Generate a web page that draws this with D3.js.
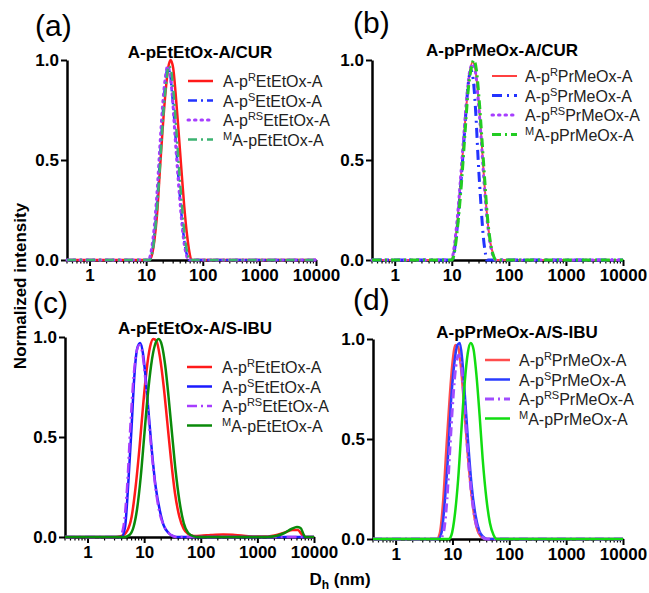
<!DOCTYPE html>
<html>
<head>
<meta charset="utf-8">
<script src="https://cdn.jsdelivr.net/npm/d3@7"></script>
<style>
  body { margin: 0; background: #fff; }
  svg { display: block; font-family: "Liberation Sans", Arial, sans-serif; }
</style>
</head>
<body>
<div id="chart"></div>
<script>
// ---- data (Dh in nm, normalized intensity) ----
const xTicks = [1, 10, 100, 1000, 10000];
const yTicks = [0, 0.5, 1];

const titles = ["A-pEtEtOx-A/CUR", "A-pPrMeOx-A/CUR", "A-pEtEtOx-A/S-IBU", "A-pPrMeOx-A/S-IBU"];
const letters = ["(a)", "(b)", "(c)", "(d)"];

// legend labels: [before, superscript, after]
const labelsEt = [["A-p", "R", "EtEtOx-A"], ["A-p", "S", "EtEtOx-A"], ["A-p", "RS", "EtEtOx-A"], ["", "M", "A-pEtEtOx-A"]];
const labelsPr = [["A-p", "R", "PrMeOx-A"], ["A-p", "S", "PrMeOx-A"], ["A-p", "RS", "PrMeOx-A"], ["", "M", "A-pPrMeOx-A"]];

// (a) A-pEtEtOx-A/CUR
const aR = [[0.4,0],[11.5,0],[12.5,0.02],[14,0.1],[15.5,0.22],[17.5,0.45],[19.5,0.65],[22,0.84],[24.5,0.96],[27,1.0],[30,0.96],[33,0.84],[37,0.66],[42,0.45],[47,0.27],[53,0.12],[58,0.04],[63,0],[10000,0]];
const aS = [[0.4,0],[11.5,0],[12.5,0.03],[14,0.13],[16,0.33],[18,0.56],[20,0.76],[22,0.9],[24,0.96],[26.5,0.93],[29,0.82],[33,0.62],[37,0.42],[42,0.23],[47,0.1],[53,0.02],[57,0],[10000,0]];
const aRS = [[0.4,0],[11,0],[12,0.03],[13.5,0.13],[15.5,0.33],[17.5,0.57],[19.5,0.77],[22,0.92],[24,0.97],[26,0.94],[29,0.82],[32,0.64],[36,0.44],[41,0.24],[46,0.1],[52,0.02],[56,0],[10000,0]];
const aM = [[0.4,0],[11.5,0],[12.5,0.02],[14,0.11],[16,0.3],[18,0.52],[20,0.72],[22.5,0.88],[25,0.97],[27.5,0.95],[30,0.86],[34,0.66],[38,0.46],[43,0.27],[48,0.12],[54,0.03],[59,0],[10000,0]];

// (b) A-pPrMeOx-A/CUR
const bR = [[0.4,0],[9.9,0],[10.8,0.04],[12.4,0.18],[14,0.36],[16.2,0.6],[18.4,0.8],[20.5,0.93],[23.2,0.99],[26,0.95],[29,0.82],[32.5,0.64],[36.5,0.42],[41,0.24],[46.5,0.1],[53,0.03],[59,0],[10000,0]];
const bS = [[0.4,0],[10.2,0],[11.3,0.06],[13,0.22],[15.1,0.46],[17.3,0.7],[19.4,0.88],[21.6,0.95],[23.8,0.9],[26.5,0.72],[29,0.5],[32.4,0.28],[35.6,0.12],[39,0.03],[41,0],[10000,0]];
const bRS = [[0.4,0],[9.9,0],[10.8,0.05],[12.4,0.2],[14,0.38],[16.2,0.62],[18.4,0.82],[20.5,0.94],[23.2,0.98],[26,0.94],[29,0.8],[32.5,0.62],[36.5,0.4],[41,0.22],[46.5,0.09],[53,0.02],[58,0],[10000,0]];
const bM = [[0.4,0],[10.2,0],[11.3,0.05],[13,0.2],[15.1,0.42],[17.3,0.66],[19.4,0.85],[22,0.96],[24.3,1.0],[27,0.95],[30.2,0.8],[33.5,0.62],[37.8,0.4],[42,0.22],[47.5,0.09],[54,0.02],[60,0],[10000,0]];

// (c) A-pEtEtOx-A/S-IBU
const cR = [[0.4,0],[3,0],[4,0.005],[5,0.03],[6,0.1],[7,0.24],[8.3,0.45],[9.6,0.66],[11,0.83],[12.7,0.95],[14.5,0.99],[16.5,0.98],[19,0.9],[22,0.76],[25.5,0.58],[30,0.38],[35,0.22],[42,0.1],[50,0.04],[60,0.015],[75,0.005],[100,0.006],[150,0.01],[250,0.013],[400,0.01],[700,0.004],[1200,0.002],[2000,0.008],[3000,0.022],[4200,0.035],[5200,0.035],[6000,0.015],[6800,0],[10000,0]];
const cS = [[0.4,0],[4,0],[4.6,0.05],[5.2,0.25],[6,0.55],[6.7,0.8],[7.5,0.94],[8.5,0.97],[9.5,0.92],[10.6,0.8],[12,0.62],[13.8,0.42],[16,0.25],[19,0.13],[22,0.06],[27,0.02],[32,0.005],[37,0],[10000,0]];
const cRS = [[0.4,0],[3.7,0],[4.3,0.05],[5,0.25],[5.7,0.55],[6.5,0.8],[7.4,0.93],[8.3,0.96],[9.3,0.92],[10.4,0.8],[11.8,0.62],[13.6,0.42],[15.8,0.25],[18.4,0.13],[22,0.06],[27,0.02],[32,0.005],[37,0],[10000,0]];
const cM = [[0.4,0],[4.5,0],[5.5,0.01],[6.5,0.05],[7.5,0.14],[8.7,0.3],[10,0.5],[11.5,0.7],[13.3,0.86],[15.5,0.96],[18,0.99],[20.5,0.96],[23.5,0.86],[27,0.7],[31,0.52],[36,0.33],[42,0.18],[50,0.07],[60,0.02],[75,0.003],[90,0],[1500,0],[2200,0.006],[3000,0.02],[4000,0.04],[5000,0.05],[5800,0.045],[6500,0.015],[7000,0],[10000,0]];

// (d) A-pPrMeOx-A/S-IBU
const dR = [[0.4,0],[5.3,0],[6,0.03],[6.9,0.2],[7.8,0.45],[8.9,0.7],[10,0.88],[11.3,0.97],[12.6,0.96],[14.1,0.86],[16.1,0.66],[18.4,0.44],[21.3,0.24],[24.7,0.1],[28.8,0.03],[34.5,0.005],[39,0],[10000,0]];
const dS = [[0.4,0],[5.6,0],[6.4,0.03],[7.4,0.2],[8.5,0.45],[9.5,0.7],[10.8,0.88],[12.2,0.97],[13.5,0.98],[14.8,0.9],[16.7,0.7],[18.9,0.48],[21.7,0.27],[25.4,0.12],[29.7,0.04],[35,0.01],[41,0],[10000,0]];
const dRS = [[0.4,0],[6,0],[6.9,0.03],[8,0.2],[9,0.45],[10.2,0.7],[11.4,0.86],[12.9,0.92],[14.4,0.86],[16.2,0.68],[18.3,0.46],[21.2,0.25],[25,0.1],[29.7,0.03],[35,0.005],[39,0],[10000,0]];
const dM = [[0.4,0],[8.6,0],[9.6,0.02],[11,0.12],[12.6,0.3],[14.4,0.55],[16.4,0.78],[18.6,0.93],[21,0.98],[23.4,0.95],[26.4,0.82],[30,0.62],[34,0.4],[39.6,0.2],[45.6,0.08],[52.8,0.02],[60,0],[10000,0]];

// ---- layout / styles ----
const W = 649, H = 593;
const panels = [
  { x0: 67, x1: 316, yt: 60, yb: 260, title: titles[0], tx: 200, ty: 58, letter: letters[0], lx: 35, ly: 36,
    legX: 188, legY: 81, legText: 223, labels: labelsEt,
    series: [
      { data: aR, color: "#ff1a1a", dash: null, w: 2.5 },
      { data: aS, color: "#2233ff", dash: "9,4,2,4", w: 2.5 },
      { data: aRS, color: "#a63dff", dash: "1.5,5", w: 3, cap: "round" },
      { data: aM, color: "#3cb371", dash: "9,4,2,4", w: 2.5 }
    ] },
  { x0: 372, x1: 623, yt: 60, yb: 260, title: titles[1], tx: 502, ty: 56, letter: letters[1], lx: 353, ly: 33,
    legX: 492, legY: 76, legText: 525, labels: labelsPr,
    series: [
      { data: bR, color: "#ff4040", dash: null, w: 2 },
      { data: bS, color: "#2233ff", dash: "10,5,2,5", w: 3 },
      { data: bRS, color: "#a63dff", dash: "1.5,5", w: 3, cap: "round" },
      { data: bM, color: "#22cc22", dash: "9,4,2,4", w: 3 }
    ] },
  { x0: 65, x1: 314, yt: 337, yb: 537, title: titles[2], tx: 195, ty: 334, letter: letters[2], lx: 33, ly: 313,
    legX: 187, legY: 367, legText: 222, labels: labelsEt,
    series: [
      { data: cR, color: "#ff1a1a", dash: null, w: 2.5 },
      { data: cS, color: "#1a1aff", dash: null, w: 2.5 },
      { data: cRS, color: "#a63dff", dash: "10,4,2,4", w: 2.5 },
      { data: cM, color: "#0a8a0a", dash: null, w: 2.5 }
    ] },
  { x0: 373, x1: 623, yt: 339, yb: 539, title: titles[3], tx: 517, ty: 338, letter: letters[3], lx: 353, ly: 310,
    legX: 485, legY: 360, legText: 519, labels: labelsPr,
    series: [
      { data: dR, color: "#ff4d4d", dash: null, w: 2.5 },
      { data: dS, color: "#2a3cff", dash: null, w: 2.5 },
      { data: dRS, color: "#a04dff", dash: "9,4,2,4", w: 3 },
      { data: dM, color: "#11dd11", dash: null, w: 2.5 }
    ] }
];

const svg = d3.select("#chart").append("svg")
  .attr("width", W).attr("height", H);

panels.forEach(p => {
  const x = d3.scaleLog().domain([0.4, 10000]).range([p.x0, p.x1]);
  const y = d3.scaleLinear().domain([0, 1]).range([p.yb, p.yt]);
  const g = svg.append("g");

  // minor log ticks
  const minors = x.ticks().filter(v => !xTicks.includes(v) && v >= 0.4);
  g.append("g").selectAll("line").data(minors).enter().append("line")
    .attr("x1", d => x(d)).attr("x2", d => x(d))
    .attr("y1", p.yb).attr("y2", p.yb + 3.5)
    .attr("stroke", "#000").attr("stroke-width", 1.2);

  const xa = g.append("g").attr("transform", `translate(0,${p.yb})`)
    .call(d3.axisBottom(x).tickValues(xTicks).tickFormat(d3.format("d"))
      .tickSize(6).tickSizeOuter(0).tickPadding(3));
  const ya = g.append("g").attr("transform", `translate(${p.x0},0)`)
    .call(d3.axisLeft(y).tickValues(yTicks).tickFormat(d3.format(".1f"))
      .tickSize(6).tickSizeOuter(0).tickPadding(2));
  [xa, ya].forEach(a => {
    a.select(".domain").attr("stroke", "#000").attr("stroke-width", 2.5);
    a.selectAll(".tick line").attr("stroke", "#000").attr("stroke-width", 2);
    a.selectAll(".tick text").attr("fill", "#000")
      .style("font-size", "17px").style("font-weight", "bold")
      .style("font-family", "'Liberation Sans', Arial, sans-serif");
  });

  // curves
  const line = d3.line().x(d => x(d[0])).y(d => y(d[1])).curve(d3.curveMonotoneX);
  p.series.forEach(s => {
    g.append("path").datum(s.data)
      .attr("d", line)
      .attr("fill", "none")
      .attr("stroke", s.color)
      .attr("stroke-width", s.w)
      .attr("stroke-linecap", s.cap || "butt")
      .attr("stroke-dasharray", s.dash);
  });

  // title + letter
  g.append("text").attr("x", p.tx).attr("y", p.ty).attr("text-anchor", "middle")
    .style("font-size", "17px").style("font-weight", "bold").text(p.title);
  g.append("text").attr("x", p.lx).attr("y", p.ly)
    .style("font-size", "30px").text(p.letter);

  // legend
  const leg = g.append("g");
  p.series.forEach((s, i) => {
    const yy = p.legY + i * 19.5;
    leg.append("line")
      .attr("x1", p.legX).attr("x2", p.legX + 25)
      .attr("y1", yy).attr("y2", yy)
      .attr("stroke", s.color).attr("stroke-width", s.w)
      .attr("stroke-linecap", s.cap || "butt")
      .attr("stroke-dasharray", s.dash);
    const lab = p.labels[i];
    const t = leg.append("text").attr("x", p.legText).attr("y", yy + 6)
      .style("font-size", "16px").attr("fill", "#222");
    if (lab[0]) t.append("tspan").text(lab[0]);
    t.append("tspan").attr("dy", -6).style("font-size", "11px").text(lab[1]);
    t.append("tspan").attr("dy", 6).text(lab[2]);
  });
});

// shared axis titles
svg.append("text")
  .attr("transform", "translate(26,286) rotate(-90)")
  .attr("text-anchor", "middle")
  .style("font-size", "17px").style("font-weight", "bold")
  .text("Normalized intensity");

const xl = svg.append("text").attr("x", 340).attr("y", 585).attr("text-anchor", "middle")
  .style("font-size", "17px").style("font-weight", "bold");
xl.append("tspan").text("D");
xl.append("tspan").attr("dy", 4).style("font-size", "12px").text("h");
xl.append("tspan").attr("dy", -4).text(" (nm)");
</script>
</body>
</html>
